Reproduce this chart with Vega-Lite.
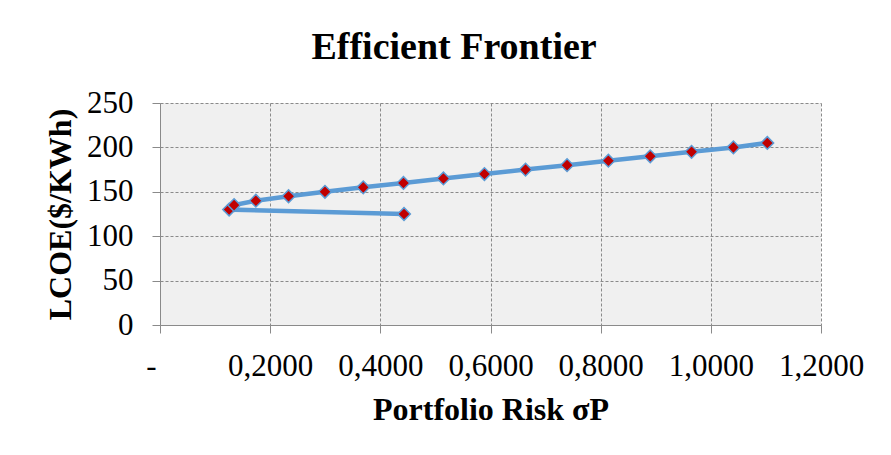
{
  "$schema": "https://vega.github.io/schema/vega-lite/v6.json",
  "width": 661,
  "height": 222,
  "autosize": {"type": "none"},
  "padding": {"left": 160, "top": 103, "right": 70, "bottom": 130},
  "background": "white",
  "title": {
    "text": "Efficient Frontier",
    "font": "Liberation Serif",
    "fontSize": 38,
    "fontWeight": "bold",
    "color": "black",
    "anchor": "middle",
    "frame": "bounds",
    "offset": 20
  },
  "data": {
    "values": [
      {"seq": 0, "risk": 0.443, "lcoe": 125},
      {"seq": 1, "risk": 0.1255, "lcoe": 130},
      {"seq": 2, "risk": 0.1345, "lcoe": 135},
      {"seq": 3, "risk": 0.174, "lcoe": 140},
      {"seq": 4, "risk": 0.2334, "lcoe": 145},
      {"seq": 5, "risk": 0.2995, "lcoe": 150},
      {"seq": 6, "risk": 0.369, "lcoe": 155},
      {"seq": 7, "risk": 0.442, "lcoe": 160},
      {"seq": 8, "risk": 0.5145, "lcoe": 165},
      {"seq": 9, "risk": 0.589, "lcoe": 170},
      {"seq": 10, "risk": 0.6636, "lcoe": 175},
      {"seq": 11, "risk": 0.739, "lcoe": 180},
      {"seq": 12, "risk": 0.814, "lcoe": 185},
      {"seq": 13, "risk": 0.89, "lcoe": 190},
      {"seq": 14, "risk": 0.965, "lcoe": 195},
      {"seq": 15, "risk": 1.041, "lcoe": 200},
      {"seq": 16, "risk": 1.1025, "lcoe": 205}
    ]
  },
  "encoding": {
    "x": {
      "field": "risk",
      "type": "quantitative",
      "scale": {"domain": [0, 1.2], "nice": false, "zero": false},
      "axis": {
        "values": [0, 0.2, 0.4, 0.6, 0.8, 1.0, 1.2],
        "labelExpr": "datum.value === 0 ? '-' : replace(format(datum.value, '.4f'), '.', ',')",
        "labelOffset": {"condition": {"test": "datum.value === 0", "value": -9}, "value": 0},
        "title": "Portfolio Risk σP",
        "labelPadding": 18,
        "titlePadding": 13
      }
    },
    "y": {
      "field": "lcoe",
      "type": "quantitative",
      "scale": {"domain": [0, 250], "nice": false},
      "axis": {
        "values": [0, 50, 100, 150, 200, 250],
        "title": "LCOE($/KWh)",
        "labelPadding": 19,
        "titlePadding": 9
      }
    }
  },
  "layer": [
    {
      "mark": {"type": "line", "color": "#5B9BD5", "strokeWidth": 4.5},
      "encoding": {"order": {"field": "seq", "type": "quantitative"}}
    },
    {
      "mark": {
        "type": "point",
        "shape": "diamond",
        "filled": true,
        "fill": "#C00000",
        "stroke": "#5B9BD5",
        "strokeWidth": 1.5,
        "size": 160,
        "opacity": 1
      }
    }
  ],
  "config": {
    "view": {"fill": "#f0f0f0", "stroke": null},
    "axis": {
      "labelFont": "Liberation Serif",
      "labelFontSize": 31,
      "labelColor": "black",
      "labelFlush": false,
      "labelOverlap": false,
      "titleFont": "Liberation Serif",
      "titleFontSize": 32,
      "titleFontWeight": "bold",
      "titleColor": "black",
      "tickSize": 8,
      "tickColor": "#8a8a8a",
      "domainColor": "#8a8a8a",
      "gridColor": "#8a8a8a",
      "gridDash": [3, 2],
      "gridWidth": 1,
      "gridOpacity": 1
    }
  }
}
